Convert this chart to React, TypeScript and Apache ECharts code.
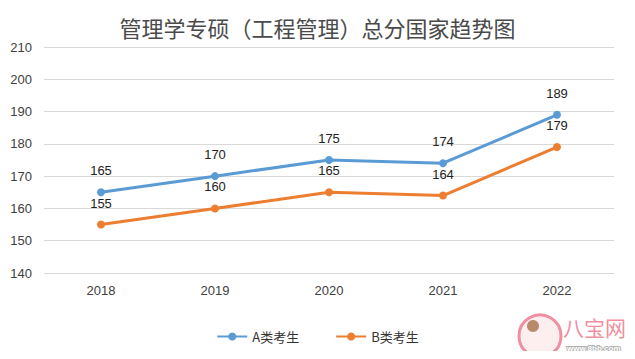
import React, { useEffect, useRef } from "react";
import * as echarts from "echarts";

const title = "管理学专硕（工程管理）总分国家趋势图";
const years = ["2018", "2019", "2020", "2021", "2022"];
const seriesAName = "A类考生";
const seriesBName = "B类考生";
const seriesA = [165, 170, 175, 174, 189];
const seriesB = [155, 160, 165, 164, 179];
const yMin = 140;
const yMax = 210;
const yStep = 10;

export default function App() {
  const ref = useRef<HTMLDivElement>(null);
  useEffect(() => {
    if (!ref.current) return;
    const chart = echarts.init(ref.current, null, { renderer: "svg" });
    const font = "'Noto Sans CJK SC', 'DejaVu Sans', sans-serif";
    const labelFont = "'Liberation Sans', 'DejaVu Sans', sans-serif";
    chart.setOption({
      animation: false,
      backgroundColor: "#ffffff",
      title: {
        text: title,
        left: "center",
        top: 11,
        textStyle: { fontFamily: font, fontSize: 22, fontWeight: "normal", color: "#4a4a4a" },
      },
      legend: {
        bottom: 11,
        left: "center",
        itemWidth: 30,
        itemHeight: 10,
        itemGap: 36,
        textStyle: { fontFamily: font, fontSize: 13, color: "#333333" },
        data: [seriesAName, seriesBName],
      },
      grid: { left: 44, right: 21, top: 47, bottom: 86, containLabel: false },
      xAxis: {
        type: "category",
        data: years,
        boundaryGap: true,
        axisLine: { show: false },
        axisTick: { show: false },
        axisLabel: { fontFamily: labelFont, fontSize: 13, color: "#404040", margin: 11 },
      },
      yAxis: {
        type: "value",
        min: yMin,
        max: yMax,
        interval: yStep,
        axisLine: { show: false },
        axisTick: { show: false },
        splitLine: { lineStyle: { color: "#d9d9d9", width: 1 } },
        axisLabel: { fontFamily: labelFont, fontSize: 13, color: "#404040", margin: 12 },
      },
      series: [
        {
          name: seriesAName,
          type: "line",
          data: seriesA,
          symbol: "circle",
          symbolSize: 8,
          itemStyle: { color: "#5B9BD5" },
          lineStyle: { color: "#5B9BD5", width: 3 },
          label: {
            show: true,
            position: "top",
            distance: 11,
            fontFamily: labelFont,
            fontSize: 13,
            color: "#222222",
          },
        },
        {
          name: seriesBName,
          type: "line",
          data: seriesB,
          symbol: "circle",
          symbolSize: 8,
          itemStyle: { color: "#ED7D31" },
          lineStyle: { color: "#ED7D31", width: 3 },
          label: {
            show: true,
            position: "top",
            distance: 11,
            fontFamily: labelFont,
            fontSize: 13,
            color: "#222222",
          },
        },
      ],
      graphic: [
        {
          type: "rect",
          shape: { x: 0.5, y: 0.5, width: 634, height: 355 },
          style: { fill: "none", stroke: "#d0d0d0", lineWidth: 1 },
          silent: true,
        },
        {
          type: "circle",
          shape: { cx: 540, cy: 336, r: 21 },
          style: { fill: "#fdeef0", stroke: "#f08fa0", lineWidth: 3 },
          silent: true,
        },
        {
          type: "circle",
          shape: { cx: 533, cy: 326, r: 6 },
          style: { fill: "#b98a6a" },
          silent: true,
        },
        {
          type: "text",
          x: 563,
          y: 316,
          style: { text: "八宝网", fontFamily: font, fontSize: 21, fill: "#f08fa0" },
          silent: true,
        },
        {
          type: "text",
          x: 567,
          y: 344,
          style: { text: "www.8bb.com", fontFamily: labelFont, fontSize: 8, fontWeight: "bold", fill: "#ffffff", stroke: "#b0b0b0", lineWidth: 2 },
          silent: true,
        },
      ],
    });
    return () => chart.dispose();
  }, []);
  return <div ref={ref} style={{ width: 635, height: 359, margin: -8 }} />;
}
